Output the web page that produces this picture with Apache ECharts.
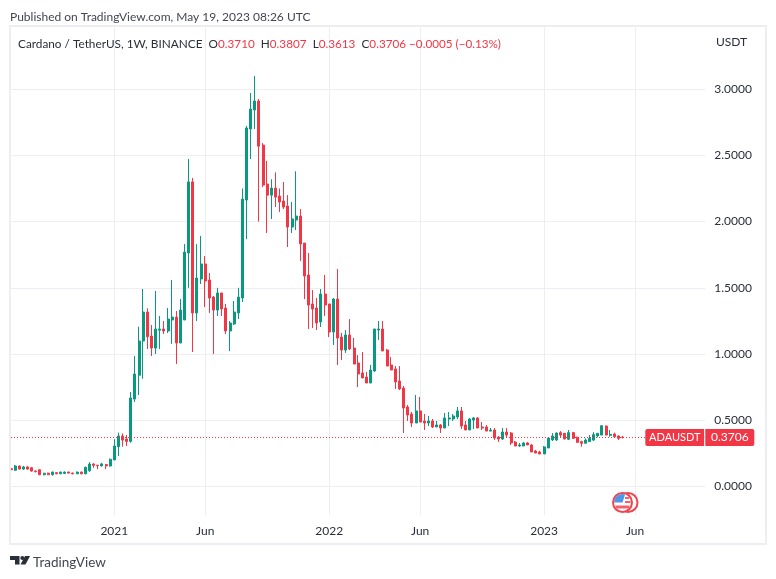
<!DOCTYPE html>
<html>
<head>
<meta charset="utf-8">
<style>
  html, body { margin: 0; padding: 0; background: #fff; }
  #chart { width: 776px; height: 579px; }
</style>
<script src="https://cdn.jsdelivr.net/npm/echarts@6/dist/echarts.min.js"></script>
</head>
<body>
<div id="chart"></div>
<script>
const opens = [
  .134,.122,.154,.131,.147,.141,.116,.126,.088,.100,
  .088,.104,.095,.098,.108,.101,.095,.108,.095,.118,
  .169,.160,.155,.165,.154,.200,.300,.381,.358,.340,
  .660,.840,1.098,1.317,1.136,1.045,1.180,1.189,1.174,1.257,
  1.279,1.083,1.257,1.763,2.300,1.310,1.567,1.680,1.559,1.430,
  1.332,1.461,1.347,1.174,1.227,1.310,1.423,2.163,2.700,2.843,
  2.911,2.578,2.284,2.200,2.253,2.193,2.155,2.118,1.959,2.012,
  2.042,1.838,1.597,1.378,1.347,1.242,1.453,1.378,1.166,1.415,
  1.128,1.030,1.144,1.045,.932,.857,.826,.781,.872,1.181,
  1.189,1.030,.917,.887,.796,.743,.600,.547,.479,.570,
  .494,.479,.494,.449,.464,.441,.509,.509,.524,.570,
  .464,.426,.501,.517,.449,.449,.418,.426,.373,.358,
  .411,.403,.335,.305,.305,.328,.313,.267,.260,.245,
  .290,.351,.351,.406,.401,.356,.406,.371,.338,.326,
  .338,.350,.381,.388,.456,.386,.396,.381,.3710
];
const closes = [
  .126,.154,.131,.147,.131,.116,.112,.088,.100,.088,
  .108,.095,.108,.108,.101,.095,.108,.095,.144,.169,
  .159,.156,.170,.155,.205,.305,.381,.350,.340,.668,
  .849,1.098,1.317,1.130,1.045,1.189,1.189,1.174,1.264,1.279,
  1.083,1.332,1.770,2.300,1.310,1.574,1.680,1.551,1.423,1.332,
  1.461,1.340,1.174,1.234,1.317,1.430,2.170,2.707,2.850,2.911,
  2.570,2.276,2.200,2.253,2.185,2.148,2.110,1.959,2.020,2.042,
  1.831,1.589,1.370,1.340,1.234,1.453,1.370,1.166,1.415,1.121,
  1.030,1.144,1.038,.924,.849,.819,.781,.879,1.189,1.189,
  1.023,.909,.879,.789,.736,.592,.539,.479,.570,.486,
  .479,.494,.449,.464,.441,.517,.517,.532,.570,.456,
  .426,.509,.517,.441,.441,.418,.426,.366,.358,.411,
  .388,.328,.305,.313,.328,.313,.260,.252,.245,.298,
  .365,.381,.403,.388,.358,.406,.363,.333,.326,.350,
  .363,.391,.401,.458,.388,.393,.375,.363,.3706
];
const highs = [
  .140,.162,.158,.155,.155,.146,.122,.128,.102,.104,
  .112,.108,.112,.113,.112,.104,.112,.112,.150,.183,
  .175,.162,.178,.170,.210,.356,.406,.400,.388,.713,
  .985,1.206,1.491,1.345,1.219,1.476,1.287,1.249,1.347,1.559,
  1.325,1.415,1.830,2.473,2.330,1.830,1.891,1.740,1.612,1.438,
  1.500,1.461,1.378,1.249,1.400,1.500,2.250,2.722,2.971,3.100,
  2.926,2.594,2.458,2.320,2.372,2.250,2.300,2.200,2.148,2.380,
  2.095,1.838,1.763,1.483,1.423,1.491,1.597,1.378,1.423,1.642,
  1.159,1.181,1.264,1.121,.992,1.015,.864,.917,1.189,1.249,
  1.249,1.038,.977,.909,.909,.758,.615,.562,.690,.675,
  .547,.532,.509,.494,.471,.554,.562,.547,.600,.600,
  .494,.517,.524,.524,.486,.464,.441,.441,.380,.441,
  .441,.411,.343,.328,.335,.335,.320,.275,.268,.305,
  .373,.403,.408,.418,.403,.426,.411,.376,.345,.363,
  .388,.410,.404,.463,.460,.426,.406,.385,.3807
];
const lows = [
  .125,.118,.128,.125,.125,.112,.105,.086,.084,.086,
  .082,.093,.093,.095,.098,.092,.093,.092,.092,.110,
  .140,.130,.150,.130,.150,.200,.230,.300,.305,.330,
  .638,.690,.813,1.038,.985,1.000,1.038,1.151,1.159,1.076,
  .924,1.083,1.257,1.500,1.015,1.249,1.529,1.355,1.310,1.000,
  1.287,1.287,1.151,1.023,1.219,1.264,1.393,1.868,2.473,2.700,
  2.000,2.260,1.914,2.020,2.110,2.073,2.095,1.808,1.914,1.936,
  1.703,1.415,1.189,1.196,1.181,1.204,1.287,1.128,1.068,.917,
  .955,1.008,1.030,.924,.751,.819,.781,.879,.864,1.106,
  1.023,.909,.879,.736,.728,.403,.494,.449,.479,.486,
  .426,.456,.441,.449,.403,.441,.456,.494,.509,.434,
  .426,.426,.434,.441,.426,.418,.426,.351,.335,.351,
  .373,.313,.305,.298,.305,.313,.260,.252,.245,.245,
  .290,.343,.343,.370,.356,.350,.358,.330,.300,.326,
  .338,.343,.371,.386,.386,.375,.375,.350,.3613
];
const priceTicks = [0, 0.5, 1, 1.5, 2, 2.5, 3];
const tickDates = ['2021-01-04', '2021-06-07', '2022-01-03', '2022-06-06', '2023-01-02', '2023-06-05'];
const tickTexts = ['2021', 'Jun', '2022', 'Jun', '2023', 'Jun'];
const lastClose = 0.3706;

const up = '#089981';
const down = '#f23645';
const grid = '#eceef3';
const ink = '#2a2e39';
const font = 'Lato, sans-serif';

// weekly candles from Jul 2020, the rest of the axis is empty room up to Jun 2023
const categories = [];
for (let i = 0; i < 169; i++) {
  categories.push(new Date(Date.UTC(2020, 6, 13 + i * 7)).toISOString().slice(0, 10));
}
const candles = opens.map((o, i) => [o, closes[i], lows[i], highs[i]]);
const isTick = (idx) => tickDates.includes(categories[idx]);

const myChart = echarts.init(document.getElementById('chart'));
myChart.setOption({
  animation: false,
  backgroundColor: '#fff',
  textStyle: { fontFamily: font },
  title: [
    {
      text: 'Published on TradingView.com, May 19, 2023 08:26 UTC',
      left: 5, top: 6,
      textStyle: { fontSize: 12, fontWeight: 'normal', color: '#434651', fontFamily: font },
    },
    {
      text: '{n|Cardano / TetherUS, 1W, BINANCE}  {n|O}{v|0.3710}  {n|H}{v|0.3807}  {n|L}{v|0.3613}  {n|C}{v|0.3706} {v|\u22120.0005 (\u22120.13%)}',
      left: 13, top: 33,
      textStyle: {
        fontSize: 12,
        fontWeight: 'normal',
        rich: {
          n: { fontSize: 11.8, color: ink, fontFamily: font, fontWeight: 'normal' },
          v: { fontSize: 11.7, color: down, fontFamily: font, fontWeight: 'normal' },
        },
      },
    },
    {
      text: 'USDT',
      left: 711, top: 31,
      textStyle: { fontSize: 12, fontWeight: 'normal', color: ink, fontFamily: font },
    },
    {
      text: 'TradingView',
      left: 28, top: 551,
      textStyle: { fontSize: 13.5, fontWeight: 'normal', color: '#434651', fontFamily: font },
    },
  ],
  grid: { left: 11, top: 27, width: 694.3, height: 488 },
  xAxis: {
    type: 'category',
    data: categories,
    boundaryGap: false,
    axisLine: { show: false },
    axisTick: { show: false },
    axisLabel: {
      interval: (idx) => isTick(idx),
      formatter: (val) => tickTexts[tickDates.indexOf(val)],
      color: ink,
      fontSize: 12,
      margin: 10,
    },
    splitLine: {
      show: true,
      interval: (idx) => isTick(idx),
      lineStyle: { color: grid, width: 1 },
    },
  },
  yAxis: {
    type: 'value',
    position: 'right',
    min: -0.216,
    max: 3.47,
    axisLine: { show: false },
    axisTick: { show: false, customValues: priceTicks },
    axisLabel: {
      customValues: priceTicks,
      formatter: (v) => v.toFixed(4),
      color: ink,
      fontSize: 12,
      margin: 9,
    },
    splitLine: { show: true, lineStyle: { color: grid, width: 1 } },
  },
  series: [
    {
      type: 'candlestick',
      data: candles,
      barWidth: 2.5,
      clip: false,
      itemStyle: {
        color: up,
        color0: down,
        borderColor: up,
        borderColor0: down,
        borderWidth: 1,
      },
      markLine: {
        silent: true,
        symbol: 'none',
        animation: false,
        data: [{ yAxis: lastClose }],
        lineStyle: { color: down, type: [1, 2], width: 1 },
        label: {
          position: 'end',
          distance: -60,
          formatter: '{a|ADAUSDT}{s|}{b|' + lastClose.toFixed(4) + '}',
          rich: {
            a: {
              backgroundColor: down, color: '#fff', fontSize: 11, fontFamily: font,
              width: 59, height: 17, align: 'center', borderRadius: [2, 0, 0, 2],
            },
            s: { width: 1, height: 17, backgroundColor: '#fff' },
            b: {
              backgroundColor: down, color: '#fff', fontSize: 12, fontFamily: font,
              width: 49, height: 17, align: 'center', borderRadius: [0, 2, 2, 0],
            },
          },
        },
      },
    },
  ],
  graphic: [
    // outer frame
    { type: 'rect', z: 50, shape: { x: 10, y: 26, width: 756, height: 518 }, style: { fill: 'none', stroke: '#eceef4', lineWidth: 2 } },
    // event marker
    { type: 'circle', z: 60, shape: { cx: 628, cy: 502.5, r: 9.5 }, style: { fill: '#fff', stroke: '#f0444f', lineWidth: 2 } },
    { type: 'circle', z: 61, shape: { cx: 622.5, cy: 502.5, r: 9.5 }, style: { fill: '#fff', stroke: '#f0444f', lineWidth: 2 } },
    { type: 'sector', z: 62, shape: { cx: 622.5, cy: 502.5, r: 8.5, r0: 0, startAngle: Math.PI, endAngle: Math.PI * 1.6 }, style: { fill: '#4f97e8' } },
    { type: 'rect', z: 62, shape: { x: 625, y: 497, width: 4, height: 2 }, style: { fill: '#f4606c' } },
    { type: 'rect', z: 62, shape: { x: 625, y: 501, width: 5.5, height: 2 }, style: { fill: '#f4606c' } },
    { type: 'rect', z: 62, shape: { x: 615.5, y: 505.5, width: 14, height: 3 }, style: { fill: '#f4606c' } },
    // logo
    { type: 'polygon', z: 60, shape: { points: [[10, 556], [19.5, 556], [19.5, 564.6], [15, 564.6], [15, 560], [10, 560]] }, style: { fill: ink } },
    { type: 'circle', z: 60, shape: { cx: 22.3, cy: 558, r: 2 }, style: { fill: ink } },
    { type: 'polygon', z: 60, shape: { points: [[25, 556], [30, 556], [25.5, 564.6], [20.5, 564.6]] }, style: { fill: ink } },
  ],
});
</script>
</body>
</html>
